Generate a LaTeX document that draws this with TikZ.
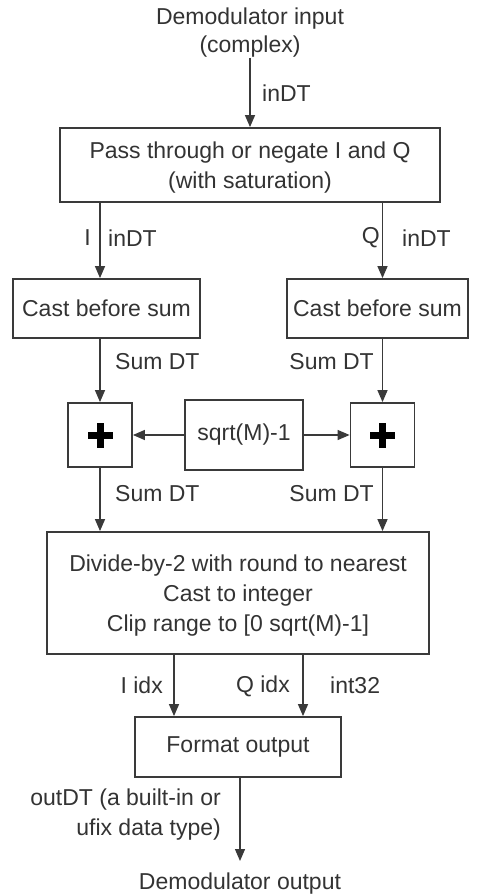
\documentclass[tikz,border=0pt]{standalone}
\usepackage{fontspec}
\setmainfont{Liberation Sans}
\usetikzlibrary{arrows.meta}
\definecolor{ink}{HTML}{333333}
\definecolor{edge}{HTML}{3A3A3A}
\newcommand{\firstln}{\rule{0pt}{22pt}}
\begin{document}
\begin{tikzpicture}[x=1pt,y=-1pt,
  every node/.style={font=\fontsize{23}{30}\selectfont,text=ink},
  blk/.style={draw=edge,line width=1.8pt,rectangle,inner sep=0pt,align=center},
  lbl/.style={inner sep=0pt,align=center},
  arr/.style={draw=edge,line width=1.3pt,-{Triangle[width=10pt,length=12pt]}},
  plusbox/.style={blk,minimum width=64pt,minimum height=64pt,
    path picture={\fill[black] ([xshift=-12.5pt,yshift=-3.5pt]path picture bounding box.center) rectangle ++(25pt,7pt);
                  \fill[black] ([xshift=-3.5pt,yshift=-12.5pt]path picture bounding box.center) rectangle ++(7pt,25pt);}}
]
\useasboundingbox (0,0) rectangle (482,896);
% nodes
\node[lbl,font=\fontsize{23}{28}\selectfont] (in) at (250,33) {Demodulator input\\(complex)};
\node[blk,minimum width=380pt,minimum height=74pt] (pass) at (250,165) {\firstln Pass through or negate I and Q\\(with saturation)};
\node[blk,minimum width=187pt,minimum height=59pt] (castL) at (106.5,308.5) {Cast before sum};
\node[blk,minimum width=181pt,minimum height=59pt] (castR) at (377.5,308.5) {Cast before sum};
\node[plusbox] (plusL) at (100,435) {};
\node[plusbox] (plusR) at (382.5,435) {};
\node[blk,minimum width=118pt,minimum height=70pt] (sqrtm) at (244,435) {sqrt(M)-1};
\node[blk,minimum width=382pt,minimum height=122pt] (div) at (238,593) {\firstln Divide-by-2 with round to nearest\\Cast to integer\\Clip range to [0 sqrt(M)-1]};
\node[blk,minimum width=206pt,minimum height=60pt] (fmt) at (238,747) {Format output};
\node[lbl] (out) at (240,884) {Demodulator output};
\coordinate (endout) at (240,861);
\coordinate (xi) at (174,0);
\coordinate (xq) at (303,0);
% connectors
\draw[arr] (in.south -| pass.north) -- (pass.north);
\draw[arr] (pass.south -| plusL) -- (castL.north -| plusL);
\draw[arr] (pass.south -| plusR) -- (castR.north -| plusR);
\draw[arr] (castL.south -| plusL) -- (plusL.north);
\draw[arr] (castR.south -| plusR) -- (plusR.north);
\draw[arr] (sqrtm.west) -- (plusL.east);
\draw[arr] (sqrtm.east) -- (plusR.west);
\draw[arr] (plusL.south) -- (div.north -| plusL);
\draw[arr] (plusR.south) -- (div.north -| plusR);
\draw[arr] (div.south -| xi) -- (fmt.north -| xi);
\draw[arr] (div.south -| xq) -- (fmt.north -| xq);
\draw[arr] (fmt.south -| endout) -- (endout);
% labels
\node[lbl,anchor=west] (l1) at (262,93) {inDT};
\node[lbl,anchor=east] (l2) at (91,238) {I};
\node[lbl,anchor=west] (l3) at (108,238) {inDT};
\node[lbl,anchor=east] (l4) at (380,238) {Q};
\node[lbl,anchor=west] (l5) at (402,238) {inDT};
\node[lbl,anchor=west] (l6) at (115,362) {Sum DT};
\node[lbl,anchor=east] (l7) at (374,362) {Sum DT};
\node[lbl,anchor=west] (l8) at (115,494) {Sum DT};
\node[lbl,anchor=east] (l9) at (374,494) {Sum DT};
\node[lbl,anchor=east] (l10) at (163,685) {I idx};
\node[lbl,anchor=east] (l11) at (290,686) {Q idx};
\node[lbl,anchor=west] (l12) at (330,685) {int32};
\node[lbl,anchor=east,align=right] (l13) at (221,815) {outDT (a built-in or\\ufix data type)};
\end{tikzpicture}
\end{document}
